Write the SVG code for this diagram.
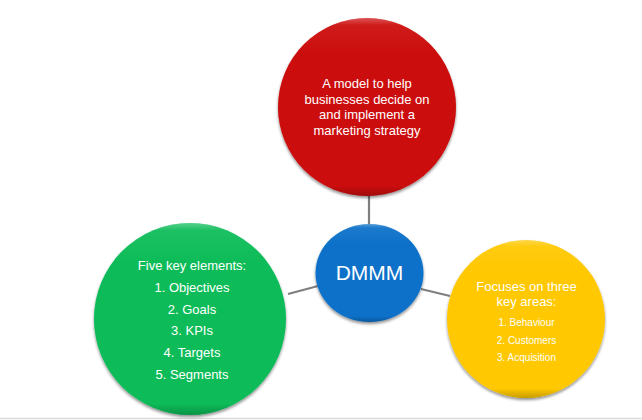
<svg xmlns="http://www.w3.org/2000/svg" width="642" height="420" viewBox="0 0 642 420">
<defs>
<style>
.t{font-family:"Liberation Sans","Noto Sans",Arial,sans-serif;fill:#fff;text-anchor:middle}
.conn line{stroke:#7f7f7f;stroke-width:2.2}
</style>
<linearGradient id="shine" x1="0" y1="0" x2="0" y2="1">
<stop offset="0" stop-color="#fff" stop-opacity="0.3"/>
<stop offset="0.04" stop-color="#fff" stop-opacity="0.06"/>
<stop offset="0.2" stop-color="#fff" stop-opacity="0"/>
<stop offset="0.94" stop-color="#000" stop-opacity="0"/>
<stop offset="1" stop-color="#000" stop-opacity="0.22"/>
</linearGradient>
<filter id="sh" x="-20%" y="-20%" width="140%" height="140%">
<feGaussianBlur in="SourceAlpha" stdDeviation="1.6"/>
<feOffset dy="2" result="b"/>
<feComponentTransfer><feFuncA type="linear" slope="0.45"/></feComponentTransfer>
<feMerge><feMergeNode/><feMergeNode in="SourceGraphic"/></feMerge>
</filter>
</defs>
<rect width="642" height="420" fill="#fff"/>
<line x1="0" y1="418.5" x2="642" y2="418.5" stroke="#d9d9d9" stroke-width="1.5"/>
<g class="conn">
<line x1="369" y1="196" x2="369" y2="228"/>
<line x1="288" y1="294" x2="318" y2="286"/>
<line x1="421" y1="289" x2="450" y2="296"/>
</g>
<g id="node-red">
<circle cx="367" cy="107" r="89" fill="#cc0808" filter="url(#sh)"/>
<circle cx="367" cy="107" r="89" fill="url(#shine)"/>
<text class="t" font-size="13"><tspan x="367" y="88">A model to help</tspan><tspan x="367" y="103.5">businesses decide on</tspan><tspan x="367" y="119">and implement a</tspan><tspan x="367" y="134.5">marketing strategy</tspan></text>
</g>
<g id="node-green">
<circle cx="190" cy="319" r="96" fill="#08bc58" filter="url(#sh)"/>
<circle cx="190" cy="319" r="96" fill="url(#shine)"/>
<text class="t" font-size="13"><tspan x="192" y="270">Five key elements:</tspan><tspan x="192" y="292">1. Objectives</tspan><tspan x="192" y="313.5">2. Goals</tspan><tspan x="192" y="335">3. KPIs</tspan><tspan x="192" y="357">4. Targets</tspan><tspan x="192" y="379">5. Segments</tspan></text>
</g>
<g id="node-yellow">
<circle cx="526" cy="319" r="79" fill="#ffc800" filter="url(#sh)"/>
<circle cx="526" cy="319" r="79" fill="url(#shine)"/>
<text class="t" font-size="13"><tspan x="526.5" y="291">Focuses on three</tspan><tspan x="526.5" y="306">key areas:</tspan></text>
<text class="t" font-size="10"><tspan x="526.5" y="326">1. Behaviour</tspan><tspan x="526.5" y="343.5">2. Customers</tspan><tspan x="526.5" y="361">3. Acquisition</tspan></text>
</g>
<g id="node-blue">
<ellipse cx="369.5" cy="273" rx="54" ry="49" fill="#0a71c9" filter="url(#sh)"/>
<ellipse cx="369.5" cy="273" rx="54" ry="49" fill="url(#shine)"/>
<text class="t" x="369.5" y="279.5" font-size="21">DMMM</text>
</g>
</svg>
